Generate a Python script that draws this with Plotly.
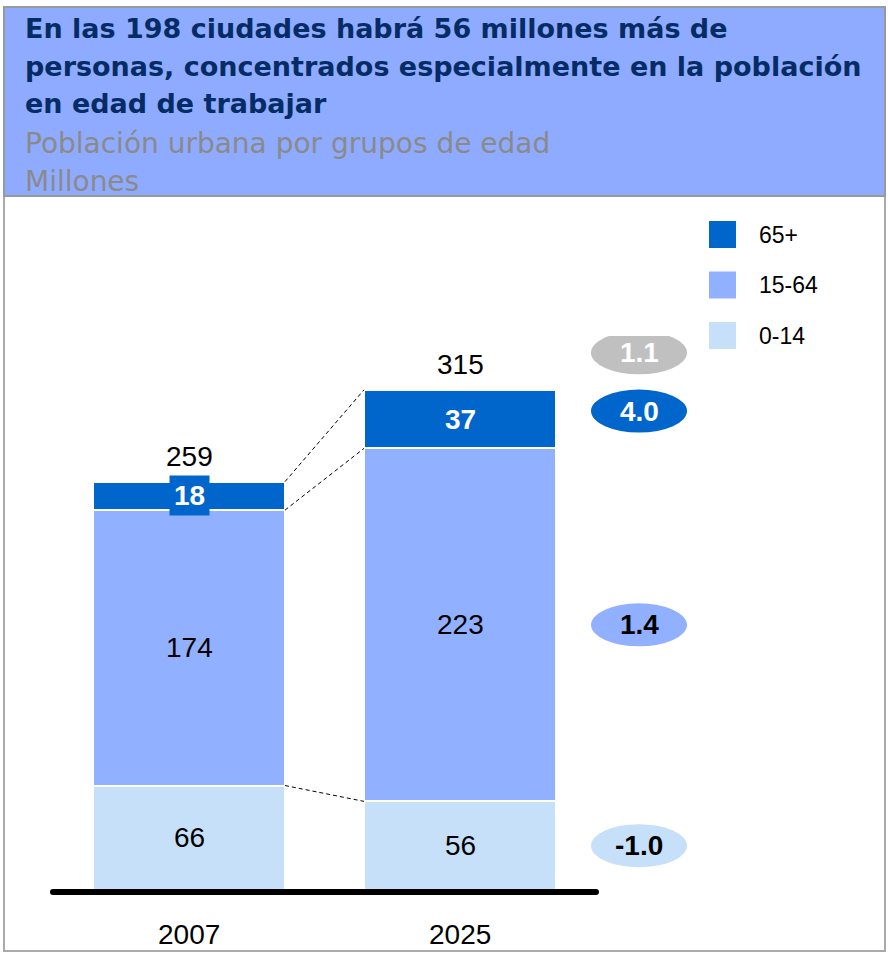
import plotly.graph_objects as go

# ---------------- data ----------------
years = ["2007", "2025"]
groups = ["0-14", "15-64", "65+"]
pop_0_14 = [66, 56]
pop_15_64 = [174, 223]
pop_65_plus = [18, 37]
totals = [259, 315]
cagr_groups = [-1.0, 1.4, 4.0]   # growth rate per group, 2007-2025
cagr_total = 1.1

title_lines = ["En las 198 ciudades habrá 56 millones más de",
               "personas, concentrados especialmente en la población",
               "en edad de trabajar"]
subtitle_lines = ["Población urbana por grupos de edad", "Millones"]

# ---------------- styles ----------------
series = [pop_0_14, pop_15_64, pop_65_plus]
colors = ["#c6e0fa", "#91b0ff", "#0066cc"]
label_colors = ["black", "black", "white"]
ell_colors = ["#c6e0fa", "#91b0ff", "#0066cc"]
ell_text = ["black", "black", "white"]
NUM_FONT = "Liberation Sans, Arial, sans-serif"
TITLE_FONT = "DejaVu Sans, sans-serif"

W, H = 888, 956
MT, MB = 336, 66
PH = H - MT - MB
Y0 = H - MB


def px(x):
    return x / W


def py(y):
    return (Y0 - y) / PH


xpos = list(range(len(years)))
BAR_W = 0.7085
ELL_X = 1.6605

fig = go.Figure()

for vals, name, col in zip(series, groups, colors):
    fig.add_trace(go.Bar(x=xpos, y=vals, name=name, width=BAR_W,
                         marker=dict(color=col, line=dict(color="white", width=2)),
                         showlegend=False, hoverinfo="skip"))

# cumulative tops
cum = []
run = [0] * len(years)
for vals in series:
    run = [r + v for r, v in zip(run, vals)]
    cum.append(list(run))

annotations = []
shapes = []

# frames
shapes.append(dict(type="rect", xref="paper", yref="paper", x0=px(4), x1=px(885),
                   y0=py(951), y1=py(196), fillcolor="white",
                   line=dict(color="#aaaaaa", width=2), layer="below"))
shapes.append(dict(type="rect", xref="paper", yref="paper", x0=px(4), x1=px(885),
                   y0=py(196), y1=py(7), fillcolor="#8fabff",
                   line=dict(color="#999999", width=2), layer="below"))

# title + subtitle
for i, t in enumerate(title_lines):
    annotations.append(dict(text="<b>" + t + "</b>", xref="paper", yref="paper",
                            x=px(23), y=py(29 + 37 * i), xanchor="left", yanchor="middle",
                            showarrow=False, font=dict(family=TITLE_FONT, size=27, color="#062c66")))
for i, t in enumerate(subtitle_lines):
    annotations.append(dict(text=t, xref="paper", yref="paper",
                            x=px(23), y=py(144 + 37 * i), xanchor="left", yanchor="middle",
                            showarrow=False, font=dict(family=TITLE_FONT, size=28, color="#8a8a8a")))

# segment labels
for g, vals in enumerate(series):
    for j, v in enumerate(vals):
        base = cum[g][j] - v
        a = dict(text=("<b>%d</b>" % v) if g == 2 else str(v), x=xpos[j], y=base + v / 2,
                 xref="x", yref="y", showarrow=False, yanchor="middle",
                 font=dict(family=NUM_FONT, size=28, color=label_colors[g]))
        if g == 2:
            a.update(bgcolor=colors[2], borderpad=4)
        annotations.append(a)

# totals
for j, t in enumerate(totals):
    annotations.append(dict(text=str(t), x=xpos[j], y=cum[-1][j], xref="x", yref="y",
                            yshift=25, yanchor="middle", showarrow=False,
                            font=dict(family=NUM_FONT, size=28, color="black")))

# year labels
for j, yname in enumerate(years):
    annotations.append(dict(text=yname, x=xpos[j], y=0, xref="x", yref="y",
                            yshift=-44, yanchor="middle", showarrow=False,
                            font=dict(family=NUM_FONT, size=28, color="black")))

# dashed connectors between bars
for g in range(len(series)):
    fig.add_trace(go.Scatter(x=[xpos[0] + BAR_W / 2, xpos[1] - BAR_W / 2],
                             y=[cum[g][0], cum[g][1]], mode="lines",
                             line=dict(color="black", width=1, dash="4px,3px"),
                             showlegend=False, hoverinfo="skip"))

# baseline
shapes.append(dict(type="line", xref="paper", yref="paper", x0=px(53), x1=px(596),
                   y0=py(892), y1=py(892),
                   line=dict(color="black", width=6), layer="above"))
for xe in (53, 596):
    shapes.append(dict(type="circle", xref="paper", yref="paper",
                       x0=px(xe - 3), x1=px(xe + 3), y0=py(895), y1=py(889),
                       fillcolor="black", line=dict(width=0), layer="above"))


# growth ellipses (up = positive pixel lift)
def ellipse(yc, lift, fill, txt, tcol):
    shapes.append(dict(type="circle", xref="x", yref="y", xsizemode="pixel", ysizemode="pixel",
                       xanchor=ELL_X, yanchor=yc, x0=-48, x1=48,
                       y0=-21.5 + lift, y1=21.5 + lift,
                       fillcolor=fill, line=dict(width=0), layer="above"))
    annotations.append(dict(text="<b>%s</b>" % txt, x=ELL_X, y=yc, xref="x", yref="y",
                            yshift=lift, yanchor="middle", showarrow=False,
                            font=dict(family=NUM_FONT, size=28, color=tcol)))


for g, v in enumerate(cagr_groups):
    mid = cum[g][1] - series[g][1] / 2
    ellipse(mid, 8 if g == 2 else 0, ell_colors[g], "%.1f" % v, ell_text[g])
ellipse(cum[-1][1], 37, "#c0c0c0", "%.1f" % cagr_total, "white")

# legend (drawn)
for k, g in enumerate(reversed(range(len(groups)))):
    yc = 234.5 + 50.5 * k
    shapes.append(dict(type="rect", xref="paper", yref="paper", x0=px(709), x1=px(736),
                       y0=py(yc + 13.5), y1=py(yc - 13.5), fillcolor=colors[g],
                       line=dict(width=0)))
    annotations.append(dict(text=groups[g], xref="paper", yref="paper", x=px(757), y=py(yc),
                            xanchor="left", yanchor="middle", showarrow=False,
                            font=dict(family=NUM_FONT, size=23, color="black")))

fig.update_layout(
    width=W, height=H, autosize=False,
    margin=dict(l=0, r=0, t=MT, b=MB, pad=0),
    barmode="stack", bargap=0,
    paper_bgcolor="white", plot_bgcolor="rgba(0,0,0,0)",
    xaxis=dict(visible=False, range=[-189 / 271, (W - 189) / 271], fixedrange=True),
    yaxis=dict(visible=False, range=[0, 350], fixedrange=True),
    shapes=shapes, annotations=annotations, showlegend=False,
)

fig.write_html("out.html", config={"displayModeBar": False},
               post_script="document.body.style.margin='0px';")
